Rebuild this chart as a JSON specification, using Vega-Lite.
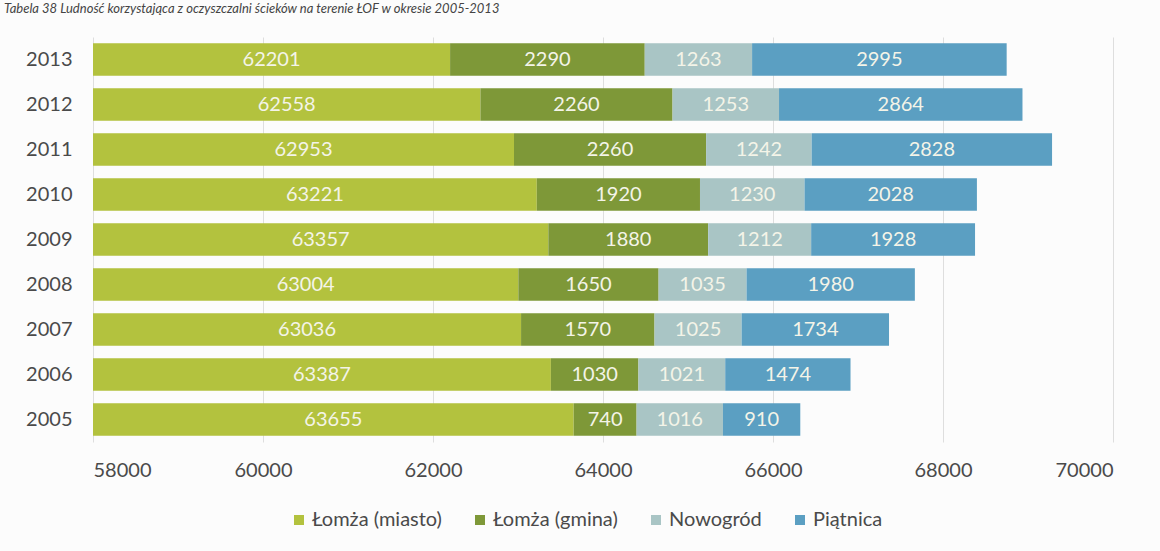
{
  "$schema": "https://vega.github.io/schema/vega-lite/v6.json",
  "autosize": "none",
  "width": 1020,
  "height": 405,
  "padding": {"left": 93, "top": 37, "right": 47, "bottom": 109},
  "background": "#fcfcfc",
  "title": {
    "text": "Tabela 38 Ludność korzystająca z oczyszczalni ścieków na terenie ŁOF w okresie 2005-2013",
    "anchor": "start",
    "frame": "group",
    "dx": -89,
    "offset": 21,
    "font": "Lato",
    "fontSize": 13,
    "fontStyle": "italic",
    "fontWeight": "normal",
    "color": "#444444"
  },
  "config": {
    "font": "Lato",
    "view": {"stroke": null},
    "axis": {"labelFont": "Lato", "labelColor": "#4a4a4a", "labelFontSize": 20}
  },
  "datasets": {
    "rows": [
      {"year": "2013", "series": "Łomża (miasto)", "value": 62201},
      {"year": "2013", "series": "Łomża (gmina)", "value": 2290},
      {"year": "2013", "series": "Nowogród", "value": 1263},
      {"year": "2013", "series": "Piątnica", "value": 2995},
      {"year": "2012", "series": "Łomża (miasto)", "value": 62558},
      {"year": "2012", "series": "Łomża (gmina)", "value": 2260},
      {"year": "2012", "series": "Nowogród", "value": 1253},
      {"year": "2012", "series": "Piątnica", "value": 2864},
      {"year": "2011", "series": "Łomża (miasto)", "value": 62953},
      {"year": "2011", "series": "Łomża (gmina)", "value": 2260},
      {"year": "2011", "series": "Nowogród", "value": 1242},
      {"year": "2011", "series": "Piątnica", "value": 2828},
      {"year": "2010", "series": "Łomża (miasto)", "value": 63221},
      {"year": "2010", "series": "Łomża (gmina)", "value": 1920},
      {"year": "2010", "series": "Nowogród", "value": 1230},
      {"year": "2010", "series": "Piątnica", "value": 2028},
      {"year": "2009", "series": "Łomża (miasto)", "value": 63357},
      {"year": "2009", "series": "Łomża (gmina)", "value": 1880},
      {"year": "2009", "series": "Nowogród", "value": 1212},
      {"year": "2009", "series": "Piątnica", "value": 1928},
      {"year": "2008", "series": "Łomża (miasto)", "value": 63004},
      {"year": "2008", "series": "Łomża (gmina)", "value": 1650},
      {"year": "2008", "series": "Nowogród", "value": 1035},
      {"year": "2008", "series": "Piątnica", "value": 1980},
      {"year": "2007", "series": "Łomża (miasto)", "value": 63036},
      {"year": "2007", "series": "Łomża (gmina)", "value": 1570},
      {"year": "2007", "series": "Nowogród", "value": 1025},
      {"year": "2007", "series": "Piątnica", "value": 1734},
      {"year": "2006", "series": "Łomża (miasto)", "value": 63387},
      {"year": "2006", "series": "Łomża (gmina)", "value": 1030},
      {"year": "2006", "series": "Nowogród", "value": 1021},
      {"year": "2006", "series": "Piątnica", "value": 1474},
      {"year": "2005", "series": "Łomża (miasto)", "value": 63655},
      {"year": "2005", "series": "Łomża (gmina)", "value": 740},
      {"year": "2005", "series": "Nowogród", "value": 1016},
      {"year": "2005", "series": "Piątnica", "value": 910}
    ],
    "seriesMeta": [
      {"series": "Łomża (miasto)", "rank": 1},
      {"series": "Łomża (gmina)", "rank": 2},
      {"series": "Nowogród", "rank": 3},
      {"series": "Piątnica", "rank": 4}
    ]
  },
  "data": {"name": "rows"},
  "transform": [
    {"lookup": "series", "from": {"data": {"name": "seriesMeta"}, "key": "series", "fields": ["rank"]}}
  ],
  "encoding": {
    "y": {
      "field": "year",
      "type": "ordinal",
      "sort": "descending",
      "title": null,
      "scale": {"paddingInner": 0.28, "paddingOuter": 0.14},
      "axis": {"domain": false, "ticks": false, "labelPadding": 21, "grid": false}
    }
  },
  "layer": [
    {
      "layer": [
        {
          "mark": {"type": "bar", "clip": true},
          "encoding": {
            "x": {
              "field": "value",
              "type": "quantitative",
              "stack": "zero",
              "title": null,
              "scale": {"domain": [58000, 70000], "nice": false, "zero": false},
              "axis": {
                "values": [58000, 60000, 62000, 64000, 66000, 68000, 70000],
                "format": "d",
                "domain": false,
                "ticks": false,
                "labelPadding": 18,
                "grid": true,
                "gridColor": "#dedede",
                "gridWidth": 1
              }
            },
            "color": {
              "field": "series",
              "type": "nominal",
              "sort": ["Łomża (miasto)", "Łomża (gmina)", "Nowogród", "Piątnica"],
              "scale": {
                "domain": ["Łomża (miasto)", "Łomża (gmina)", "Nowogród", "Piątnica"],
                "range": ["#b3c23e", "#7e9838", "#a9c5c5", "#5b9fc2"]
              },
              "legend": {
                "title": null,
                "orient": "none",
                "legendX": 196,
                "legendY": 473,
                "direction": "horizontal",
                "symbolType": "square",
                "symbolSize": 100,
                "symbolStrokeWidth": 0,
                "labelFontSize": 20,
                "labelFont": "Lato",
                "labelColor": "#4a4a4a",
                "columnPadding": 28,
                "labelOffset": 3
              }
            },
            "order": {"field": "rank", "type": "quantitative", "sort": "ascending"}
          }
        },
        {
          "mark": {"type": "text", "clip": true, "color": "#f4f4e8", "fontSize": 20, "font": "Lato", "align": "center", "baseline": "middle"},
          "encoding": {
            "x": {"field": "value", "type": "quantitative", "stack": "zero", "bandPosition": 0.5},
            "detail": {"field": "series", "type": "nominal"},
            "order": {"field": "rank", "type": "quantitative", "sort": "ascending"},
            "text": {
              "condition": {"test": "datum.series === 'Łomża (miasto)'", "value": ""},
              "field": "value",
              "type": "quantitative",
              "format": "d"
            }
          }
        }
      ]
    },
    {
      "transform": [{"filter": "datum.series === 'Łomża (miasto)'"}],
      "mark": {"type": "text", "color": "#f4f4e8", "fontSize": 20, "font": "Lato", "align": "center", "baseline": "middle"},
      "encoding": {
        "x": {
          "field": "value",
          "type": "quantitative",
          "stack": null,
          "scale": {"domain": [58000, 82000], "nice": false, "zero": false},
          "axis": null
        },
        "text": {"field": "value", "type": "quantitative", "format": "d"}
      }
    }
  ],
  "resolve": {"scale": {"x": "independent"}}
}
